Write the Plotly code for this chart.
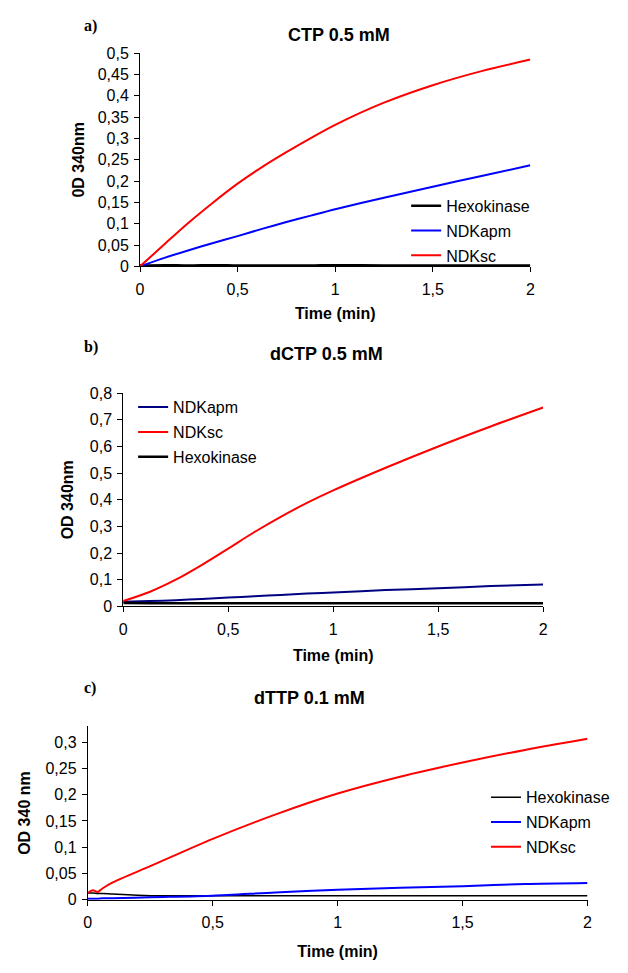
import plotly.graph_objects as go

W, H = 628, 973

# ---- data ----
t_a = [0, 0.125, 0.25, 0.375, 0.5, 0.625, 0.75, 0.875, 1.0, 1.25, 1.5, 1.75, 2.0]
a_hexo = [0.002, 0.003, 0.002, 0.003, 0.002, 0.002, 0.002, 0.002, 0.003, 0.002, 0.002, 0.002, 0.002]
a_apm = [0.0, 0.020, 0.038, 0.055, 0.071, 0.088, 0.104, 0.119, 0.134, 0.161, 0.187, 0.212, 0.237]
a_sc = [0.0, 0.052, 0.103, 0.150, 0.194, 0.233, 0.268, 0.301, 0.332, 0.384, 0.425, 0.458, 0.485]

t_b = [0, 0.125, 0.25, 0.375, 0.5, 0.625, 0.75, 0.875, 1.0, 1.25, 1.5, 1.75, 2.0]
b_apm = [0.017, 0.020, 0.023, 0.028, 0.033, 0.038, 0.043, 0.048, 0.052, 0.061, 0.068, 0.076, 0.082]
b_sc = [0.020, 0.054, 0.100, 0.156, 0.217, 0.279, 0.336, 0.388, 0.435, 0.520, 0.600, 0.675, 0.746]
b_hexo = [0.013, 0.012, 0.012, 0.012, 0.012, 0.012, 0.012, 0.012, 0.012, 0.012, 0.012, 0.012, 0.012]

t_c = [0, 0.02, 0.04, 0.06, 0.1, 0.25, 0.5, 0.75, 1.0, 1.25, 1.5, 1.75, 2.0]
c_hexo = [0.013, 0.013, 0.012, 0.012, 0.011, 0.008, 0.008, 0.008, 0.008, 0.008, 0.008, 0.008, 0.008]
c_apm = [0.002, 0.002, 0.002, 0.003, 0.003, 0.005, 0.008, 0.014, 0.019, 0.023, 0.026, 0.030, 0.032]
c_sc = [0.013, 0.018, 0.015, 0.022, 0.033, 0.064, 0.116, 0.162, 0.202, 0.234, 0.261, 0.285, 0.306]

x_ticks = [0, 0.5, 1, 1.5, 2]
x_ticklabels = ["0", "0,5", "1", "1,5", "2"]
ya_ticks = [0, 0.05, 0.1, 0.15, 0.2, 0.25, 0.3, 0.35, 0.4, 0.45, 0.5]
ya_labels = ["0", "0,05", "0,1", "0,15", "0,2", "0,25", "0,3", "0,35", "0,4", "0,45", "0,5"]
yb_ticks = [0, 0.1, 0.2, 0.3, 0.4, 0.5, 0.6, 0.7, 0.8]
yb_labels = ["0", "0,1", "0,2", "0,3", "0,4", "0,5", "0,6", "0,7", "0,8"]
yc_ticks = [0, 0.05, 0.1, 0.15, 0.2, 0.25, 0.3]
yc_labels = ["0", "0,05", "0,1", "0,15", "0,2", "0,25", "0,3"]

RED = "#ff0000"
BLUE = "#0000ff"
NAVY = "#000080"
BLACK = "#000000"
FONT = "Liberation Sans"

fig = go.Figure()

def add(x, y, name, color, xa, ya, legend, width=2):
    fig.add_trace(go.Scatter(x=x, y=y, name=name, mode="lines",
                             line=dict(color=color, width=width, shape="spline", smoothing=0.8),
                             xaxis=xa, yaxis=ya, legend=legend,
                             legendgroup=legend + name))

# panel a
add(t_a, a_hexo, "Hexokinase", BLACK, "x", "y", "legend", 2.5)
add(t_a, a_apm, "NDKapm", BLUE, "x", "y", "legend")
add(t_a, a_sc, "NDKsc", RED, "x", "y", "legend")
# panel b
add(t_b, b_apm, "NDKapm", NAVY, "x2", "y2", "legend2")
add(t_b, b_sc, "NDKsc", RED, "x2", "y2", "legend2")
add(t_b, b_hexo, "Hexokinase", BLACK, "x2", "y2", "legend2", 2.5)
# panel c
add(t_c, c_hexo, "Hexokinase", BLACK, "x3", "y3", "legend3", 1.5)
add(t_c, c_apm, "NDKapm", BLUE, "x3", "y3", "legend3")
add(t_c, c_sc, "NDKsc", RED, "x3", "y3", "legend3")

def px_x(v):
    return v / W

def px_y(v):
    return 1 - v / H

tickfont = dict(family=FONT, size=16, color="black")
titlefont = dict(family=FONT, size=16, color="black", weight="bold")

def xaxis(l, r, anchor, standoff):
    return dict(domain=[px_x(l), px_x(r)], range=[0, 2], tickvals=x_ticks, ticktext=x_ticklabels,
                showline=True, linecolor="black", linewidth=1, ticks="outside", ticklen=5,
                tickcolor="black", showgrid=False, zeroline=False, tickfont=tickfont,
                ticklabelstandoff=3,
                anchor=anchor, title=dict(text="Time (min)", font=titlefont, standoff=standoff))

def yaxis(b, t_, rng, tv, tt, title, anchor, standoff):
    return dict(domain=[px_y(b), px_y(t_)], range=rng, tickvals=tv, ticktext=tt,
                showline=True, linecolor="black", linewidth=1, ticks="outside", ticklen=5,
                tickcolor="black", showgrid=False, zeroline=False, tickfont=tickfont,
                ticklabelstandoff=2,
                anchor=anchor, title=dict(text=title, font=titlefont, standoff=standoff))

legfont = dict(family=FONT, size=16, color="black")
leg_common = dict(xanchor="left", yanchor="top", font=legfont, bgcolor="rgba(0,0,0,0)",
                  tracegroupgap=1, itemclick=False)

fig.update_layout(
    width=W, height=H, margin=dict(l=0, r=0, t=0, b=0),
    paper_bgcolor="white", plot_bgcolor="white",
    xaxis=xaxis(138, 534, "y", 11),
    yaxis=yaxis(263, 46, [0, 0.5], ya_ticks, ya_labels, "0D 340nm", "x", 9),
    xaxis2=xaxis(121, 547, "y2", 13),
    yaxis2=yaxis(609, 392, [0, 0.8], yb_ticks, yb_labels, "OD 340nm", "x2", 12),
    xaxis3=xaxis(85, 592, "y3", 15),
    yaxis3=yaxis(907.7, 731, [0, 0.33], yc_ticks, yc_labels, "OD 340 nm", "x3", 10),
    legend=dict(x=px_x(408), y=px_y(184), **leg_common),
    legend2=dict(x=px_x(131), y=px_y(389), **leg_common),
    legend3=dict(x=px_x(489), y=px_y(786), **leg_common),
    showlegend=True,
)

ann_title = dict(family=FONT, size=18, color="black", weight="bold")
ann_lab = dict(family="Liberation Serif", size=16, color="black", weight="bold")
for txt, x, y in [("CTP 0.5 mM", 340, 27), ("dCTP 0.5 mM", 327, 352), ("dTTP 0.1 mM", 310, 702)]:
    fig.add_annotation(text=txt, x=px_x(x), y=px_y(y), xref="paper", yref="paper",
                       showarrow=False, font=ann_title, xanchor="center", yanchor="middle")
for txt, x, y in [("a)", 79, 18), ("b)", 79, 345), ("c)", 79, 692)]:
    fig.add_annotation(text=txt, x=px_x(x), y=px_y(y), xref="paper", yref="paper",
                       showarrow=False, font=ann_lab, xanchor="left", yanchor="middle")

fig.write_html("out.html", config={"displayModeBar": False},
               post_script="document.body.style.margin='0';document.body.style.overflow='hidden';")
